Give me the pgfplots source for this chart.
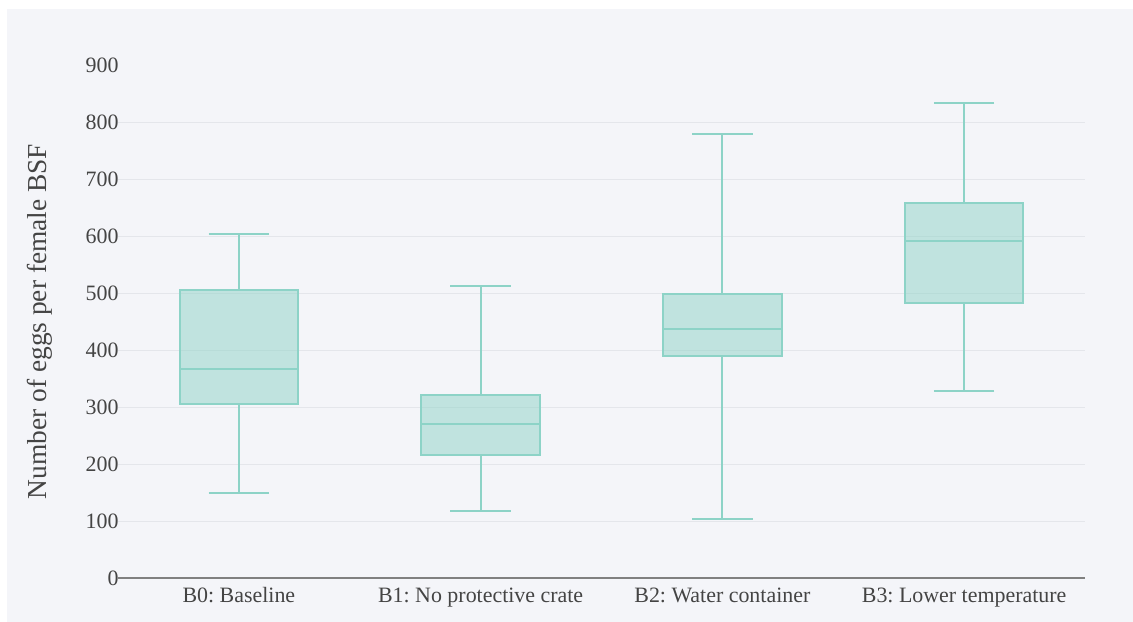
\documentclass[border=0pt]{standalone}
\usepackage{fontspec}
\setmainfont{Liberation Serif}
\usepackage{pgfplots}
\pgfplotsset{compat=1.18}
\usepgfplotslibrary{statistics}
\definecolor{bgc}{HTML}{F4F5F9}
\definecolor{boxc}{HTML}{8DD3C7}
\definecolor{gridc}{HTML}{E4E6EB}
\definecolor{txtc}{HTML}{444444}
\definecolor{zeroc}{HTML}{808080}
\frenchspacing
\begin{document}
\frenchspacing
\begin{tikzpicture}
\fill[white] (0,0) rectangle (1133bp,622bp);
\fill[bgc] (7bp,0) rectangle (1133bp,613bp);
\begin{axis}[
  at={(118bp,44bp)}, anchor=south west,
  scale only axis,
  width=967bp, height=513bp,
  xmin=-0.5, xmax=3.5,
  ymin=0, ymax=900,
  axis x line*=bottom,
  axis y line*=left,
  x axis line style={draw=zeroc, line width=2bp, -},
  y axis line style={draw=none},
  major tick length=0pt,
  tick style={draw=none},
  xtick={0,1,2,3},
  xticklabels={B0: Baseline, B1: No protective crate, B2: Water container, B3: Lower temperature},
  ytick={100,200,...,800},
  extra y ticks={0,900},
  extra y tick style={grid=none},
  ymajorgrids,
  grid style={draw=gridc, line width=1bp},
  /pgf/number format/assume math mode=true,
  ticklabel style={font=\fontsize{22}{26}\selectfont\frenchspacing, text=txtc},
  yticklabel style={xshift=4bp},
  xticklabel style={yshift=-6bp},
  ylabel={Number of eggs per female BSF},
  ylabel style={font=\fontsize{27.5}{33}\selectfont, text=txtc, at={(axis description cs:-0.0807,0.5)}, anchor=center},
  boxplot/draw direction=y,
]
\addplot+[boxplot prepared={lower whisker=149, lower quartile=305, median=367, upper quartile=505, upper whisker=603, draw position=0, box extend=0.49, whisker extend=0.25}, draw=boxc, fill=boxc, fill opacity=0.5, line width=2.2bp, solid, mark=none] coordinates {};
\addplot+[boxplot prepared={lower whisker=118, lower quartile=216, median=270, upper quartile=321, upper whisker=512, draw position=1, box extend=0.49, whisker extend=0.25}, draw=boxc, fill=boxc, fill opacity=0.5, line width=2.2bp, solid, mark=none] coordinates {};
\addplot+[boxplot prepared={lower whisker=104, lower quartile=389, median=437, upper quartile=498, upper whisker=779, draw position=2, box extend=0.49, whisker extend=0.25}, draw=boxc, fill=boxc, fill opacity=0.5, line width=2.2bp, solid, mark=none] coordinates {};
\addplot+[boxplot prepared={lower whisker=328, lower quartile=482, median=591, upper quartile=658, upper whisker=833, draw position=3, box extend=0.49, whisker extend=0.25}, draw=boxc, fill=boxc, fill opacity=0.5, line width=2.2bp, solid, mark=none] coordinates {};
\end{axis}
\end{tikzpicture}
\end{document}
